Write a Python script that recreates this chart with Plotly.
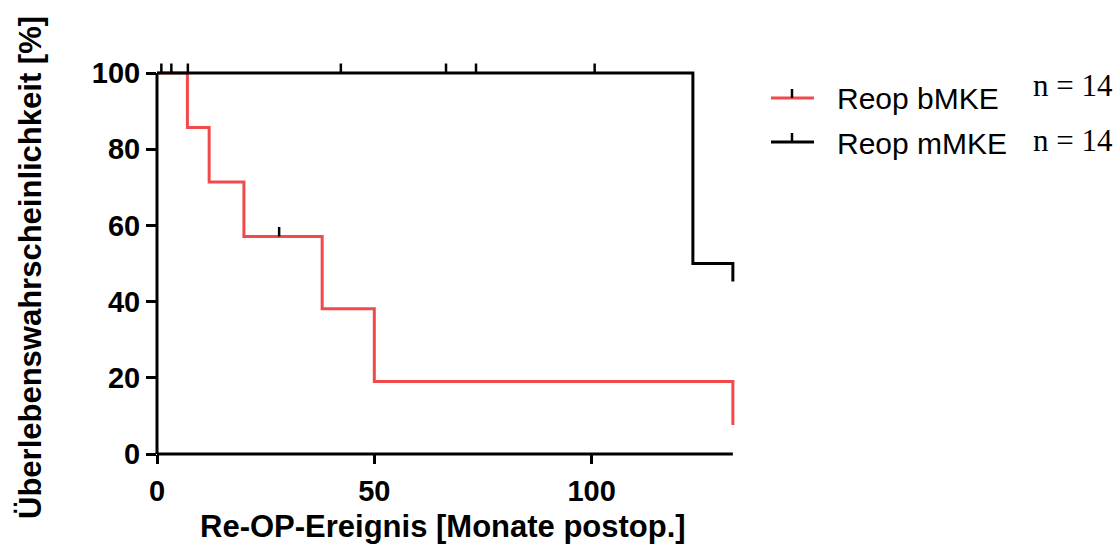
import plotly.graph_objects as go

# Kaplan-Meier step data (months, survival %)
bmke_t = [0, 7, 7, 12, 12, 20, 20, 38, 38, 50, 50, 132.5, 132.5]
bmke_s = [100, 100, 85.7, 85.7, 71.4, 71.4, 57.1, 57.1, 38.1, 38.1, 19.0, 19.0, 7.6]
mmke_t = [0, 123.3, 123.3, 132.5, 132.5]
mmke_s = [100, 100, 50, 50, 45.3]

# censored observations (tick marks)
cens_t = [1.0, 3.3, 7.1, 42.3, 66.5, 73.4, 100.7, 28.1]
cens_s = [100, 100, 100, 100, 100, 100, 100, 57.1]

legend_names = ["Reop bMKE", "Reop mMKE"]
legend_n = ["n = 14", "n = 14"]
colors = ["#f24a4a", "#000000"]

x_ticks = [0, 50, 100]
y_ticks = [0, 20, 40, 60, 80, 100]

W, H = 1119, 545
L, R, T, B = 157, 377, 62, 91
PW, PH = W - L - R, H - T - B


def px(xp):
    return (xp - L) / PW


def py(yp):
    return (H - B - yp) / PH


fig = go.Figure()
fig.add_trace(go.Scatter(x=bmke_t, y=bmke_s, mode="lines",
                         line=dict(color=colors[0], width=3), showlegend=False,
                         cliponaxis=False))
fig.add_trace(go.Scatter(x=mmke_t, y=mmke_s, mode="lines",
                         line=dict(color=colors[1], width=3), showlegend=False,
                         cliponaxis=False))
fig.add_trace(go.Scatter(x=cens_t, y=cens_s, mode="markers",
                         marker=dict(size=1, opacity=0),
                         error_y=dict(type="data", symmetric=False,
                                      array=[2.5] * len(cens_t),
                                      arrayminus=[0] * len(cens_t),
                                      width=0, thickness=2.5, color="black"),
                         showlegend=False, cliponaxis=False))

tickfont = dict(size=29, family="Liberation Sans, Arial", weight="bold", color="black")
fig.update_layout(
    width=W, height=H,
    margin=dict(l=L, r=R, t=T, b=B),
    paper_bgcolor="white", plot_bgcolor="white",
    font=dict(family="Liberation Sans, Arial", color="black"),
    xaxis=dict(range=[0, 134.6], tickvals=x_ticks, ticks="outside", ticklen=9,
               tickwidth=2.5, tickcolor="black", showline=False,
               showgrid=False, zeroline=False, tickfont=tickfont,
               ticklabelstandoff=2),
    yaxis=dict(range=[0, 102.9], tickvals=y_ticks, ticks="outside", ticklen=10,
               tickwidth=2.5, tickcolor="black", showline=False,
               showgrid=False, zeroline=False, tickfont=tickfont,
               ticklabelstandoff=0),
)

# axis lines
fig.add_shape(type="line", xref="x", yref="paper", x0=0, x1=max(bmke_t), y0=0, y1=0,
              line=dict(color="black", width=3))
fig.add_shape(type="line", xref="paper", yref="y", x0=0, x1=0, y0=0, y1=100,
              line=dict(color="black", width=3))

# axis titles
fig.add_annotation(text="<b>Re-OP-Ereignis [Monate postop.]</b>", xref="paper", yref="paper",
                   x=px(443), y=py(526), xanchor="center", yanchor="middle", showarrow=False,
                   font=dict(size=31, family="Liberation Sans, Arial"))
fig.add_annotation(text="<b>Überlebenswahrscheinlichkeit [%]</b>", xref="paper", yref="paper",
                   x=px(30), y=py(268), xanchor="center", yanchor="middle",
                   textangle=-90, showarrow=False,
                   font=dict(size=31, family="Liberation Sans, Arial"))

# legend (drawn manually)
leg_y = [98, 142]
n_y = [85, 140]
for i in range(2):
    fig.add_shape(type="line", xref="paper", yref="paper",
                  x0=px(771), x1=px(814), y0=py(leg_y[i]), y1=py(leg_y[i]),
                  line=dict(color=colors[i], width=3))
    fig.add_shape(type="line", xref="paper", yref="paper",
                  x0=px(792), x1=px(792), y0=py(leg_y[i]), y1=py(leg_y[i] - 9),
                  line=dict(color="black", width=2.5))
    fig.add_annotation(text=legend_names[i], xref="paper", yref="paper",
                       x=px(835), y=py(leg_y[i] + 1), xanchor="left", yanchor="middle",
                       showarrow=False, font=dict(size=30, family="Liberation Sans, Arial"))
    fig.add_annotation(text=legend_n[i], xref="paper", yref="paper",
                       x=px(1031), y=py(n_y[i]), xanchor="left", yanchor="middle",
                       showarrow=False, font=dict(size=31, family="Liberation Serif, Times New Roman"))

fig.write_html("out.html", config={"displayModeBar": False},
               post_script="document.body.style.margin='0';")
